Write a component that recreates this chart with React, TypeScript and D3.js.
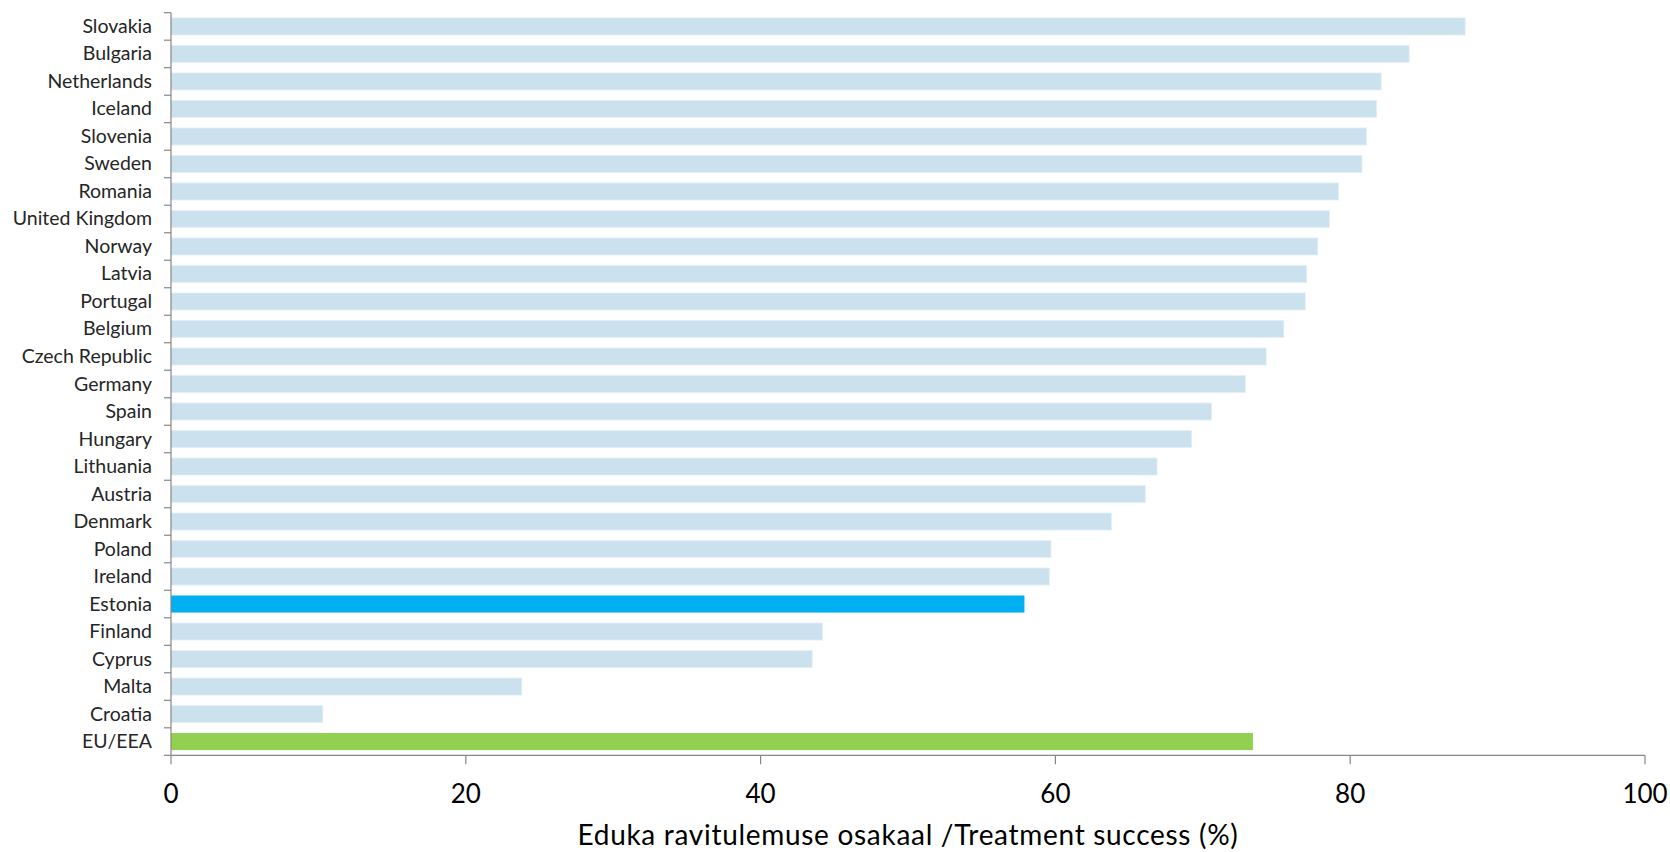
import React from "react";
import * as d3 from "d3";

const countries = [
  "Slovakia", "Bulgaria", "Netherlands", "Iceland", "Slovenia", "Sweden", "Romania",
  "United Kingdom", "Norway", "Latvia", "Portugal", "Belgium", "Czech Republic", "Germany",
  "Spain", "Hungary", "Lithuania", "Austria", "Denmark", "Poland", "Ireland", "Estonia",
  "Finland", "Cyprus", "Malta", "Croatia", "EU/EEA",
];
const successValues = [
  87.8, 84.0, 82.1, 81.8, 81.1, 80.8, 79.2,
  78.6, 77.8, 77.05, 76.95, 75.5, 74.3, 72.9,
  70.6, 69.25, 66.9, 66.1, 63.8, 59.7, 59.6, 57.9,
  44.2, 43.5, 23.8, 10.3, 73.4,
];
const xTicks = [0, 20, 40, 60, 80, 100];
const axisTitle = "Eduka ravitulemuse osakaal /Treatment success (%)";

const W = 1670;
const H = 852;
const x0 = 171;
const x1 = 1645;
const yTop = 12.7;
const yBot = 755.3;
const FONT = "Lato, 'Open Sans', sans-serif";

function barColor(name: string) {
  if (name === "Estonia") return "#00B0F0";
  if (name === "EU/EEA") return "#92D050";
  return "#CBE2EE";
}

export default function App() {
  const x = d3.scaleLinear().domain([0, 100]).range([x0, x1]);
  const y = d3
    .scaleBand<string>()
    .domain(countries)
    .range([yTop, yBot])
    .paddingInner(0.38)
    .paddingOuter(0.19);
  const step = y.step();
  const boundaries = d3.range(countries.length + 1).map((i) => yTop + i * step);

  return (
    <svg
      width={W}
      height={H}
      style={{ position: "absolute", left: 0, top: 0, background: "#fff" }}
    >
      {countries.map((c, i) => (
        <rect
          key={c}
          x={x(0)}
          y={y(c)!}
          width={x(successValues[i]) - x(0)}
          height={y.bandwidth()}
          fill={barColor(c)}
          stroke={c === "Estonia" || c === "EU/EEA" ? "none" : "#E4EFF6"}
          strokeWidth={0.8}
        />
      ))}
      {/* y axis */}
      <line x1={x0} x2={x0} y1={yTop} y2={yBot} stroke="#868686" strokeWidth={1.2} />
      {boundaries.map((b, i) => (
        <line key={i} x1={x0 - 7} x2={x0} y1={b} y2={b} stroke="#868686" strokeWidth={1.2} />
      ))}
      {countries.map((c) => (
        <text
          key={c}
          x={152}
          y={y(c)! + y.bandwidth() / 2 - 1}
          textAnchor="end"
          dominantBaseline="central"
          fontFamily={FONT}
          fontSize={19.5}
          fill="#262626"
        >
          {c}
        </text>
      ))}
      {/* x axis */}
      <line x1={x0} x2={x1} y1={yBot} y2={yBot} stroke="#868686" strokeWidth={1.2} />
      {xTicks.map((t) => (
        <g key={t}>
          <line x1={x(t)} x2={x(t)} y1={yBot} y2={yBot + 9} stroke="#868686" strokeWidth={1.2} />
          <text
            x={x(t)}
            y={803}
            textAnchor="middle"
            fontFamily={FONT}
            fontSize={26}
            fill="#000"
          >
            {t}
          </text>
        </g>
      ))}
      <text
        x={(x0 + x1) / 2}
        y={845}
        textAnchor="middle"
        fontFamily={FONT}
        fontSize={28}
        letterSpacing={0.7}
        fill="#000"
      >
        {axisTitle}
      </text>
    </svg>
  );
}
